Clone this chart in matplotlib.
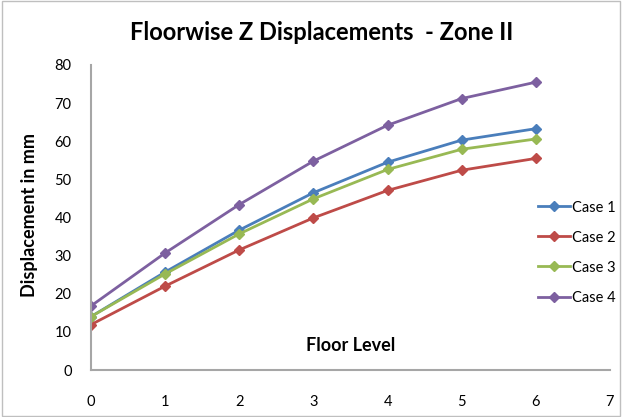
import matplotlib
matplotlib.use("Agg")
import matplotlib.pyplot as plt
from matplotlib.patches import Rectangle

plt.rcParams['font.family'] = ['Lato', 'DejaVu Sans']

# --- Data ---
floors = [0, 1, 2, 3, 4, 5, 6]
case1 = [14.0, 25.7, 36.7, 46.5, 54.5, 60.3, 63.3]
case2 = [11.9, 22.0, 31.5, 39.9, 47.1, 52.4, 55.5]
case3 = [14.0, 25.2, 35.7, 44.9, 52.6, 57.9, 60.6]
case4 = [16.8, 30.7, 43.4, 54.8, 64.2, 71.2, 75.5]

series_names = ["Case 1", "Case 2", "Case 3", "Case 4"]
series_colors = ["#4a7ebb", "#be4b48", "#98b954", "#7d60a0"]
x_ticks = [0, 1, 2, 3, 4, 5, 6, 7]
y_ticks = [0, 10, 20, 30, 40, 50, 60, 70, 80]

fig = plt.figure(figsize=(6.22, 4.17), dpi=100)
fig.patches.append(Rectangle((0.003, 0.003), 0.994, 0.994, transform=fig.transFigure,
                             fill=False, edgecolor="#bfbfbf", linewidth=1.0))

ax = fig.add_axes([91 / 622, 1 - 370 / 417, (610 - 91) / 622, (370 - 65) / 417])

for vals, name, col in zip([case1, case2, case3, case4], series_names, series_colors):
    ax.plot(floors, vals, color=col, linewidth=2, marker="D", markersize=5.5,
            label=name)

ax.set_xlim(0, 7)
ax.set_ylim(0, 80)
ax.set_xticks(x_ticks)
ax.set_yticks(y_ticks)
ax.tick_params(axis="both", length=0, labelsize=10.5, colors="#000000")
ax.tick_params(axis="x", pad=18)
ax.tick_params(axis="y", pad=14)

for side in ["top", "right"]:
    ax.spines[side].set_visible(False)
for side in ["left", "bottom"]:
    ax.spines[side].set_color("#a6a6a6")
    ax.spines[side].set_linewidth(1.5)

fig.text(322 / 622, 1 - 32 / 417, "Floorwise Z Displacements  - Zone II", ha="center",
         va="center", fontsize=17, fontweight="bold")
fig.text(30 / 622, 1 - 215 / 417, "Displacement in mm", rotation=90, ha="center",
         va="center", fontsize=13, fontweight="bold")
ax.text(3.5, 6.5, "Floor Level", ha="center", va="center", fontsize=13,
        fontweight="bold")

leg = ax.legend(loc="center left", bbox_to_anchor=(0.85, 0.385), frameon=False,
                fontsize=10.5, handlelength=2.2, handletextpad=0.1, labelspacing=1.1,
                borderaxespad=0)

fig.savefig("out.png", dpi=100)
